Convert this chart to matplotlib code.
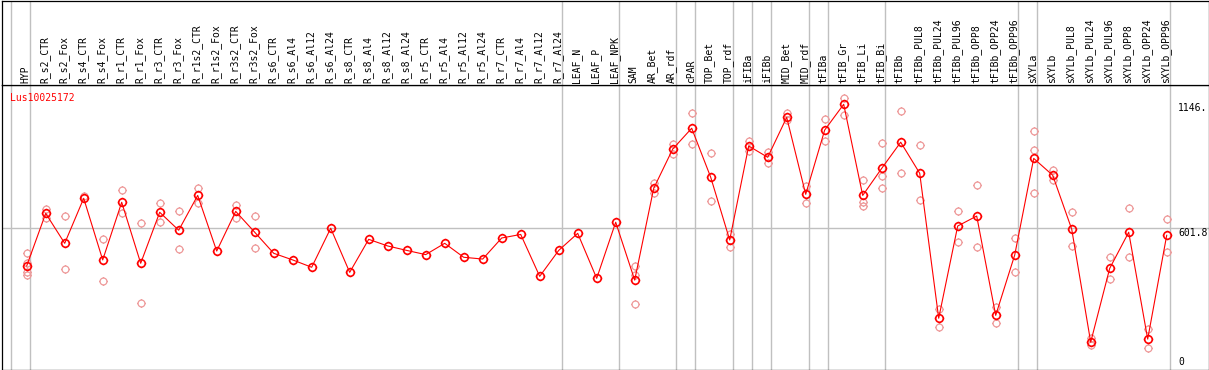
import numpy as np
import matplotlib
matplotlib.use("Agg")
import matplotlib.pyplot as plt
from matplotlib.path import Path

# sample names (columns, left to right)
samples = ["HYP", "R_s2_CTR", "R_s2_Fox", "R_s4_CTR", "R_s4_Fox", "R_r1_CTR", "R_r1_Fox",
           "R_r3_CTR", "R_r3_Fox", "R_r1s2_CTR", "R_r1s2_Fox", "R_r3s2_CTR", "R_r3s2_Fox",
           "R_s6_CTR", "R_s6_Al4", "R_s6_Al12", "R_s6_Al24", "R_s8_CTR", "R_s8_Al4",
           "R_s8_Al12", "R_s8_Al24", "R_r5_CTR", "R_r5_Al4", "R_r5_Al12", "R_r5_Al24",
           "R_r7_CTR", "R_r7_Al4", "R_r7_Al12", "R_r7_Al24", "LEAF_N", "LEAF_P", "LEAF_NPK",
           "SAM", "AR_Bet", "AR_rdf", "cPAR", "TOP_Bet", "TOP_rdf", "iFIBa", "iFIBb",
           "MID_Bet", "MID_rdf", "tFIBa", "tFIB_Gr", "tFIB_Li", "tFIB_Bi", "tFIBb",
           "tFIBb_PUL8", "tFIBb_PUL24", "tFIBb_PUL96", "tFIBb_OPP8", "tFIBb_OPP24",
           "tFIBb_OPP96", "sXYLa", "sXYLb", "sXYLb_PUL8", "sXYLb_PUL24", "sXYLb_PUL96",
           "sXYLb_OPP8", "sXYLb_OPP24", "sXYLb_OPP96"]

# mean expression per sample
means = [432, 669, 534, 737, 459, 719, 444, 674, 593, 750, 499, 678, 584,
         489, 459, 426, 602, 403, 552, 522, 502, 483, 534, 471, 463, 558, 574, 385, 502,
         579, 376, 629, 368, 782, 959, 1053, 832, 549, 973, 922, 1102, 755,
         1045, 1161, 750, 872, 990, 850, 196, 612, 657, 209, 481,
         917, 841, 598, 88, 421, 584, 102, 570]

# replicate values per sample (only those visible apart from the mean)
replicates = [[489, 446, 406, 391], [690, 647], [657, 418], [747], [552, 363], [774, 669],
              [624, 263], [716, 631], [678, 507], [783, 717], [], [707, 647], [657, 511],
              [], [], [], [], [], [], [], [], [], [], [], [], [], [], [], [], [], [], [],
              [431, 391, 260], [805, 762], [980, 937], [1120, 980], [940, 723], [574, 519],
              [995, 950], [947, 898], [1120, 1090], [792, 714], [1093, 994], [1188, 1111],
              [820, 722, 702], [985, 839, 782], [1129, 850], [976, 729], [236, 155],
              [680, 538], [796, 516], [245, 173], [557, 403], [1041, 955, 759], [865, 820],
              [675, 522], [105, 75], [471, 372], [693, 471], [149, 60], [642, 493]]

# last sample index of each tissue group
group_ends = [-1, 0, 28, 31, 34, 35, 37, 38, 39, 41, 42, 45, 52, 53, 60]

ref_levels = [1146, 601.8, 0]
ref_labels = ["1146.", "601.8", "0"]
gene = "Lus10025172"

W, H = 1209, 370
fig = plt.figure(figsize=(W / 100, H / 100), dpi=100)
mono = "DejaVu Sans Mono"

# pixel geometry
x0, dx = 26.7, 19.0          # pixel x of first column and spacing
y0, dy = 361.7, 0.2217       # pixel y of value 0 and px per unit
L, R, top, bot = 1.5, 1208.5, 85.0, 369.5
xlim = ((L - x0) / dx, (R - x0) / dx)
ylim = ((y0 - bot) / dy, (y0 - top) / dy)

ax = fig.add_axes([L / W, (H - bot) / H, (R - L) / W, (bot - top) / H])
axh = fig.add_axes([L / W, (H - top) / H, (R - L) / W, (top - 0.5) / H])
for a in (ax, axh):
    a.set_xlim(*xlim)
    a.set_xticks([])
    a.set_yticks([])
    for s in a.spines.values():
        s.set_linewidth(0.9)
        s.set_color("black")
    for g in group_ends:
        a.axvline(g + 0.19, color="#c0c0c0", lw=1.0, zorder=0)
ax.set_ylim(*ylim)
axh.set_ylim(0, 1)

# header labels
for i, name in enumerate(samples):
    axh.text(i - 0.05, 0.02, name, rotation=90, ha="center", va="bottom",
             fontsize=7, family=mono, transform=axh.get_xaxis_transform())

# reference line and right-side labels
ax.axhline(601.8, color="#c0c0c0", lw=1.0, zorder=0)
for lv, lb in zip(ref_levels, ref_labels):
    ax.text((1178 - x0) / dx, lv, lb, ha="left", va="top" if lb == "601.8" else "center",
            fontsize=7, family=mono)

fig.text(10 / W, 1 - 97.7 / H, gene, color="red", fontsize=7, family=mono,
         ha="left", va="center")

# circle marker with small nubs, like the bitmap symbol
nubs = Path([(0, 1), (0, 1.25), (0, -1), (0, -1.25), (1, 0), (1.25, 0), (-1, 0), (-1.25, 0)],
            [Path.MOVETO, Path.LINETO] * 4)
marker = Path.make_compound_path(Path.unit_circle(), nubs)

xs = np.arange(len(samples))
rx = [i for i, r in enumerate(replicates) for _ in r]
ry = [v for r in replicates for v in r]
ax.plot(rx, ry, linestyle="none", marker=marker, ms=6.2, mfc="none", mec="#ee9a9a",
        mew=0.9, zorder=2)
ax.plot(xs, means, color="red", lw=0.8, zorder=3)
ax.plot(xs, means, linestyle="none", marker=marker, ms=6.8, mfc="none", mec="red",
        mew=1.2, zorder=4)

fig.savefig("out.png", dpi=100)
